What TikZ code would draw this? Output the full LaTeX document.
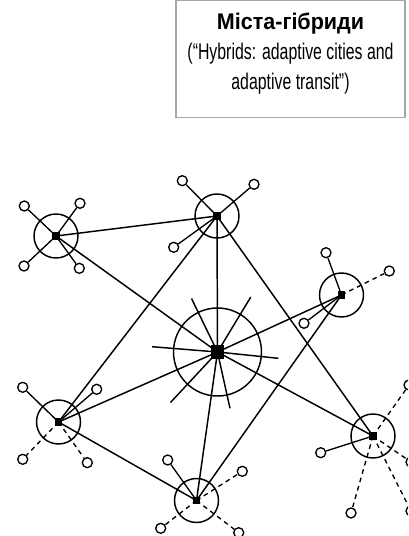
\documentclass[tikz,border=0pt]{standalone}
\usepackage{fontspec}
\setmainfont{Liberation Sans}
\begin{document}
\begin{tikzpicture}[x=0.75pt,y=-0.75pt,
  hub/.style={rectangle,fill=black,inner sep=0pt,minimum size=5.5pt},
  core/.style={rectangle,fill=black,inner sep=0pt,minimum size=10pt},
  ring/.style={circle,draw,line width=1.1pt,inner sep=0pt,minimum size=33pt},
  bigring/.style={circle,draw,line width=1.1pt,inner sep=0pt,minimum size=66pt},
  sat/.style={circle,draw,fill=white,line width=1pt,inner sep=0pt,minimum size=7.5pt},
  link/.style={line width=1.1pt},
  feeder/.style={line width=1pt},
  planned/.style={line width=1pt,dash pattern=on 3.5pt off 3pt},
  titletext/.style={anchor=base,inner sep=0pt,font=\fontsize{17}{20}\selectfont}]
\useasboundingbox (0,0) rectangle (408,536);
\clip (0,0) rectangle (408,536);

% title box
\node (titlebox) [draw=black!35,line width=0.8pt,minimum width=171.75pt,minimum height=87.5pt,inner sep=0pt] at (290.5,59) {};
\node (t1) [titletext,font=\fontsize{17}{20}\selectfont\bfseries] at (290.5,29) {\scalebox{0.95}[1]{Міста-гібриди}};
\node (t2) [titletext] at (290.5,59) {\scalebox{0.7}[1]{(“Hybrids: adaptive cities and}};
\node (t3) [titletext] at (290.5,89) {\scalebox{0.7}[1]{adaptive transit”)}};

% hubs
\coordinate (H) at (217.5,352);
\coordinate (A) at (56,236);
\coordinate (B) at (217,216);
\coordinate (C) at (341.5,295);
\coordinate (D) at (58.5,422);
\coordinate (E) at (196.5,500.5);
\coordinate (F) at (373,436);

% rings around the centres
\node (rH) [bigring] at (H) {};
\foreach \n in {A,B,C,D,E,F} \node (r\n) [ring] at (\n) {};

% free spokes of the core
\coordinate (k1) at (191.5,298.5);
\coordinate (k2) at (250.8,297);
\coordinate (k3) at (152,346.7);
\coordinate (k4) at (278.3,358.3);
\coordinate (k5) at (170.5,402.5);
\coordinate (k6) at (230,408.3);
\foreach \k in {k1,k2,k3,k4,k5,k6} \draw[link] (H) -- (\k);

% trunk links
\draw[link] (A) -- (B);
\draw[link] (A) -- (H);
\draw[link] (B) -- (H);
\draw[link] (B) -- (D);
\draw[link] (B) -- (F);
\draw[link] (C) -- (H);
\draw[link] (C) -- (E);
\draw[link] (D) -- (H);
\draw[link] (D) -- (E);
\draw[link] (E) -- (H);
\draw[link] (F) -- (H);

% satellites
\node (a1) [sat] at (24.3,206) {};
\node (a2) [sat] at (80,203.3) {};
\node (a3) [sat] at (24,266) {};
\node (a4) [sat] at (79.3,268.3) {};
\node (b1) [sat] at (182.3,180.7) {};
\node (b2) [sat] at (254,184.3) {};
\node (b3) [sat] at (173.7,247.3) {};
\node (c1) [sat] at (326,252.7) {};
\node (c2) [sat] at (389.3,271) {};
\node (c3) [sat] at (304,323.3) {};
\node (d1) [sat] at (22.7,387.3) {};
\node (d2) [sat] at (96.7,389.3) {};
\node (d3) [sat] at (22.7,459.3) {};
\node (d4) [sat] at (87.3,462.7) {};
\node (e1) [sat] at (167.7,460) {};
\node (e2) [sat] at (242.3,471.3) {};
\node (e3) [sat] at (160.7,528.3) {};
\node (e4) [sat] at (238.7,532.7) {};
\node (f1) [sat] at (320.7,452.7) {};
\node (f2) [sat] at (409,385) {};
\node (f3) [sat] at (411,462) {};
\node (f4) [sat] at (351,513) {};
\node (f5) [sat] at (411,511) {};

% existing feeders
\foreach \s in {a1,a2,a3,a4} \draw[feeder] (A) -- (\s);
\foreach \s in {b1,b2,b3} \draw[feeder] (B) -- (\s);
\foreach \s in {c1,c3} \draw[feeder] (C) -- (\s);
\foreach \s in {d1,d2} \draw[feeder] (D) -- (\s);
\draw[feeder] (E) -- (e1);
\draw[feeder] (F) -- (f1);

% planned feeders
\draw[planned] (C) -- (c2);
\foreach \s in {d3,d4} \draw[planned] (D) -- (\s);
\foreach \s in {e2,e3,e4} \draw[planned] (E) -- (\s);
\foreach \s in {f2,f3,f4,f5} \draw[planned] (F) -- (\s);

% hub squares on top
\node (nH) [core] at (H) {};
\foreach \n in {A,B,C,D,E,F} \node (n\n) [hub] at (\n) {};
\end{tikzpicture}
\end{document}
